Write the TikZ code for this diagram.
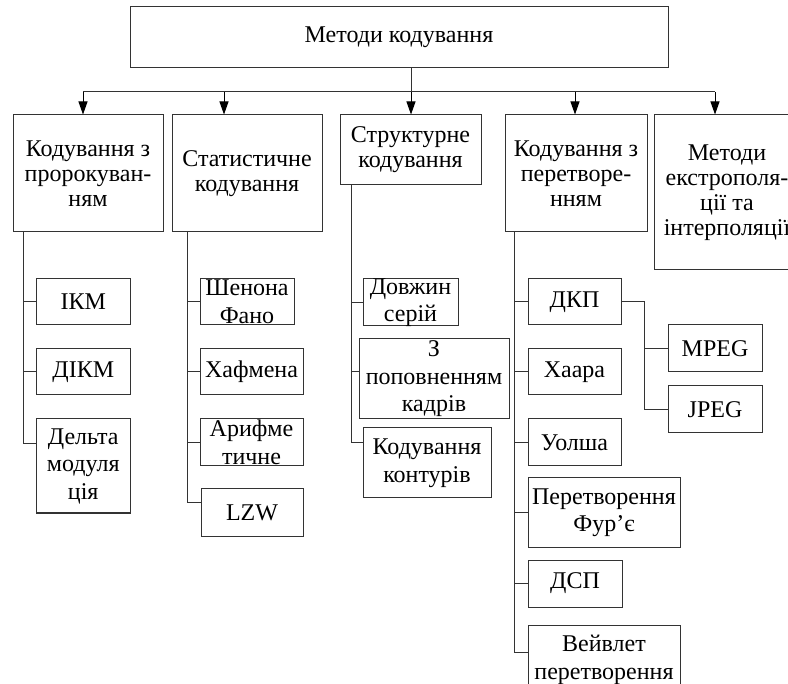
\documentclass[tikz,border=0pt]{standalone}
\usepackage{fontspec}
\setmainfont{Liberation Serif}
\usetikzlibrary{arrows.meta, calc}

\begin{document}
\begin{tikzpicture}[
        x=0.5pt, y=-0.5pt,
        every node/.style={font=\fontsize{12}{12.5}\selectfont, align=center},
        blok/.style 2 args={draw=black!80, line width=0.5pt, inner xsep=1pt, inner ysep=0pt, minimum width=#1*0.5pt, minimum height=#2*0.5pt},
        pidblok/.style 2 args={blok={#1}{#2}, inner ysep=-2pt, font=\fontsize{12}{13.75}\selectfont},
        lin/.style={draw=black!80, line width=0.5pt},
        arr/.style={-{Triangle[length=6.5pt, width=4.5pt]}, line width=0.5pt, black}
    ]
        \useasboundingbox (0,0) rectangle (788,684);
        \clip (0,0) rectangle (788,684);

        % Верхній рівень
        \node[blok={538}{61}] (top) at (399,37.5) {Методи кодування};

        % Перший рівень
        \node[blok={150}{117}] (k1) at (88,173.5) {Кодування з\\пророкуван-\\ням};
        \node[blok={150}{117}] (k2) at (247,173.5) {Статистичне\\кодування};
        \node[blok={141}{70}] (k3) at (410.5,150) {Структурне\\кодування};
        \node[blok={142}{117}] (k4) at (576,173.5) {Кодування з\\перетворе-\\нням};
        \node[blok={146}{155}] (k5) at (727,192.5) {Методи\\екстрополя-\\ції та\\інтерполяції};

        \coordinate (b1) at (83,92);
        \coordinate (b2) at (224,92);
        \coordinate (b3) at (411,92);
        \coordinate (b4) at (575,92);
        \coordinate (b5) at (715,92);
        \draw[lin] (b1) -- (b5);
        \draw[lin] (top.south -| b3) -- (b3);
        \foreach \i in {1,...,5}
            \draw[arr] (b\i) -- (b\i |- k\i.north);

        % Кодування з пророкуванням
        \node[pidblok={93.5}{46}] (ikm) at (83.25,302) {ІКМ};
        \node[pidblok={93.5}{46}] (dikm) at (83.25,372) {ДІКМ};
        \node[pidblok={93.5}{94}] (delta) at (83.25,466) {Дельта\\модуля\\ція};

        % Статистичне кодування
        \node[pidblok={94}{46}] (shen) at (247,302) {Шенона\\Фано};
        \node[pidblok={103}{46}] (haf) at (251.5,372) {Хафмена};
        \node[pidblok={103}{47}] (arif) at (251.5,442.5) {Арифме\\тичне};
        \node[pidblok={102}{47}] (lzw) at (252,512.5) {LZW};

        % Структурне кодування
        \node[pidblok={95}{47}] (dovzh) at (410.5,302.5) {Довжин\\серій};
        \node[pidblok={150}{80}] (popn) at (434,379) {З\\поповненням\\кадрів};
        \node[pidblok={128}{70}] (kont) at (427,463) {Кодування\\контурів};

        % Кодування з перетворенням
        \node[pidblok={93}{46}] (dkp) at (574.5,302) {ДКП};
        \node[pidblok={93}{46}] (haar) at (574.5,372) {Хаара};
        \node[pidblok={93}{47}] (uolsh) at (574.5,442.5) {Уолша};
        \node[pidblok={152}{69}] (furje) at (604,512.5) {Перетворення\\Фурʼє};
        \node[pidblok={94}{47}] (dsp) at (575,583.5) {ДСП};
        \node[pidblok={152}{70}] (veivl) at (604,660) {Вейвлет\\перетворення};
        \node[pidblok={94}{47}] (mpeg) at (715,348.5) {MPEG};
        \node[pidblok={94}{47}] (jpeg) at (715,409.5) {JPEG};

        % Стовбури гілок
        \coordinate (t1) at (23,0);
        \coordinate (t2) at (187,0);
        \coordinate (t3) at (351,0);
        \coordinate (t4) at (514,0);
        \coordinate (t5) at (644,0);
        \coordinate (deltaw) at ($(delta.north west)!0.26!(delta.south west)$);
        \coordinate (lzww) at ($(lzw.north west)!0.3!(lzw.south west)$);
        \coordinate (popnw) at ($(popn.north west)!0.41!(popn.south west)$);
        \coordinate (kontw) at ($(kont.north west)!0.21!(kont.south west)$);
        \coordinate (veivlw) at ($(veivl.north west)!0.39!(veivl.south west)$);

        \draw[lin] (k1.south -| t1) |- (deltaw);
        \foreach \n in {ikm, dikm}
            \draw[lin] (t1 |- \n) -- (\n);

        \draw[lin] (k2.south -| t2) |- (lzww);
        \foreach \n in {shen, haf, arif}
            \draw[lin] (t2 |- \n) -- (\n);

        \draw[lin] (k3.south -| t3) |- (kontw);
        \draw[lin] (t3 |- dovzh) -- (dovzh);
        \draw[lin] (t3 |- popnw) -- (popnw);

        \draw[lin] (k4.south -| t4) |- (veivlw);
        \foreach \n in {dkp, haar, uolsh, furje, dsp}
            \draw[lin] (t4 |- \n) -- (\n);

        \draw[lin] (dkp) -| (t5 |- jpeg) -- (jpeg);
        \draw[lin] (t5 |- mpeg) -- (mpeg);
    \end{tikzpicture}
\end{document}
